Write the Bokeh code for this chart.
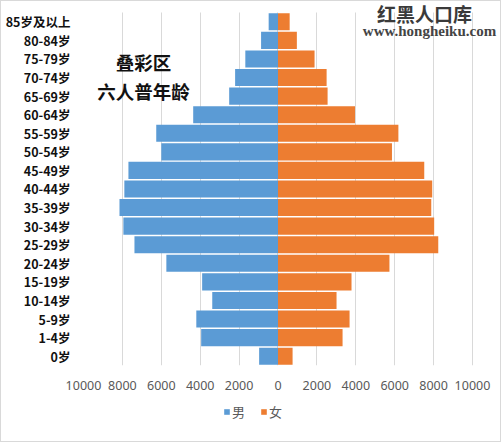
from bokeh.plotting import figure
from bokeh.models import (ColumnDataSource, Range1d, FixedTicker,
                          Legend, LegendItem, Label)
from bokeh.layouts import column
from bokeh.embed import file_html
from bokeh.resources import INLINE

# Age groups, listed from youngest (bottom) to oldest (top)
ages = ["0岁", "1-4岁", "5-9岁", "10-14岁", "15-19岁", "20-24岁", "25-29岁",
        "30-34岁", "35-39岁", "40-44岁", "45-49岁", "50-54岁", "55-59岁",
        "60-64岁", "65-69岁", "70-74岁", "75-79岁", "80-84岁", "85岁及以上"]
male = [970, 3950, 4200, 3380, 3900, 5740, 7380, 7950, 8150, 7900, 7690,
        6000, 6260, 4360, 2510, 2205, 1680, 870, 480]
female = [750, 3320, 3680, 3010, 3780, 5730, 8240, 8030, 7880, 7930, 7520,
          5860, 6190, 3960, 2550, 2500, 1880, 970, 600]
tick_values = [-10000, -8000, -6000, -4000, -2000, 0, 2000, 4000, 6000, 8000, 10000]

MALE_COLOR = "#5B9BD5"
FEMALE_COLOR = "#ED7D31"

rows = list(range(len(ages)))
src = ColumnDataSource(dict(row=rows, male_left=[-m for m in male], female=female))

# The plot frame reaches the top and right edges so the titles drawn near
# them are not clipped; the ranges are padded accordingly.
p = figure(width=499, height=400, output_backend="svg", toolbar_location=None,
           x_range=Range1d(-10000, 11440), y_range=Range1d(-0.5, 19.092),
           min_border_left=82, min_border_right=0, min_border_top=0,
           min_border_bottom=36)
p.outline_line_color = None
p.background_fill_color = "white"
p.border_fill_color = "white"

p.hbar(y="row", left="male_left", right=0, height=0.92, source=src,
       fill_color=MALE_COLOR, line_color=None)
p.hbar(y="row", left=0, right="female", height=0.92, source=src,
       fill_color=FEMALE_COLOR, line_color=None)

# x axis: absolute values on both sides
p.xaxis.ticker = FixedTicker(ticks=tick_values)
p.xaxis.major_label_overrides = {v: str(abs(v)) for v in tick_values}
p.xaxis.axis_line_color = None
p.xaxis.major_tick_line_color = None
p.xaxis.major_tick_out = 0
p.xaxis.major_tick_in = 0
p.xaxis.minor_tick_line_color = None
p.xaxis.major_label_standoff = 15
p.xaxis.major_label_text_font = "Noto Sans"
p.xaxis.major_label_text_font_size = "12.5px"
p.xaxis.major_label_text_color = "#595959"

# y axis: one tick per age group, labelled with its name
p.yaxis.ticker = FixedTicker(ticks=rows)
p.yaxis.major_label_overrides = {i: a for i, a in zip(rows, ages)}
p.yaxis.axis_line_color = None
p.yaxis.major_tick_line_color = None
p.yaxis.minor_tick_line_color = None
p.yaxis.major_tick_out = 0
p.yaxis.major_tick_in = 0
p.yaxis.major_label_standoff = 13
p.yaxis.major_label_text_font = "Noto Sans CJK SC"
p.yaxis.major_label_text_font_size = "12.5px"
p.yaxis.major_label_text_font_style = "bold"
p.yaxis.major_label_text_color = "#111111"

p.xgrid.grid_line_color = "#d9d9d9"
p.xgrid.grid_line_width = 1
p.xgrid.cross_bounds = (-0.5, 18.5)
p.ygrid.grid_line_color = None

# Chart titles
p.add_layout(Label(x=-6915, y=15.86, text="叠彩区", text_align="center",
                   text_baseline="middle", text_font="Noto Sans CJK SC",
                   text_font_size="18.5px", text_font_style="bold",
                   text_color="#111111"))
p.add_layout(Label(x=-6915, y=14.25, text="六人普年龄", text_align="center",
                   text_baseline="middle", text_font="Noto Sans CJK SC",
                   text_font_size="18.5px", text_font_style="bold",
                   text_color="#111111"))
p.add_layout(Label(x=7532, y=18.47, text="红黑人口库", text_align="center",
                   text_baseline="middle", text_font="Noto Sans CJK SC",
                   text_font_size="19px", text_font_style="bold",
                   text_color="#3a3a3a"))
p.add_layout(Label(x=7789, y=17.53, text="www.hongheiku.com", text_align="center",
                   text_baseline="middle", text_font="Liberation Serif",
                   text_font_size="15px", text_font_style="bold",
                   text_color="#444444"))

# Legend strip below the chart; its bars use the same data but the strip's
# ranges lie far away from it, so only the legend keys show.
lg = figure(width=499, height=40, output_backend="svg", toolbar_location=None,
            x_range=Range1d(50000, 60000), y_range=Range1d(100, 101),
            x_axis_type=None, y_axis_type=None, min_border=0)
lg.outline_line_color = None
lg.grid.grid_line_color = None
k_m = lg.hbar(y="row", left="male_left", right=0, height=0.92, source=src,
              fill_color=MALE_COLOR, line_color=None)
k_f = lg.hbar(y="row", left=0, right="female", height=0.92, source=src,
              fill_color=FEMALE_COLOR, line_color=None)
legend = Legend(items=[LegendItem(label="男", renderers=[k_m]),
                       LegendItem(label="女", renderers=[k_f])],
                orientation="horizontal", location=(140, 20),
                glyph_width=7, glyph_height=7, label_standoff=2, spacing=8,
                padding=2, margin=0, border_line_color=None,
                background_fill_alpha=0,
                label_text_font="Noto Sans CJK SC", label_text_font_size="13px",
                label_text_color="#595959")
lg.add_layout(legend)

page = column(p, lg, spacing=0, styles={"border": "1px solid #d9d9d9"})

open("out.html", "w").write(file_html(page, INLINE))
